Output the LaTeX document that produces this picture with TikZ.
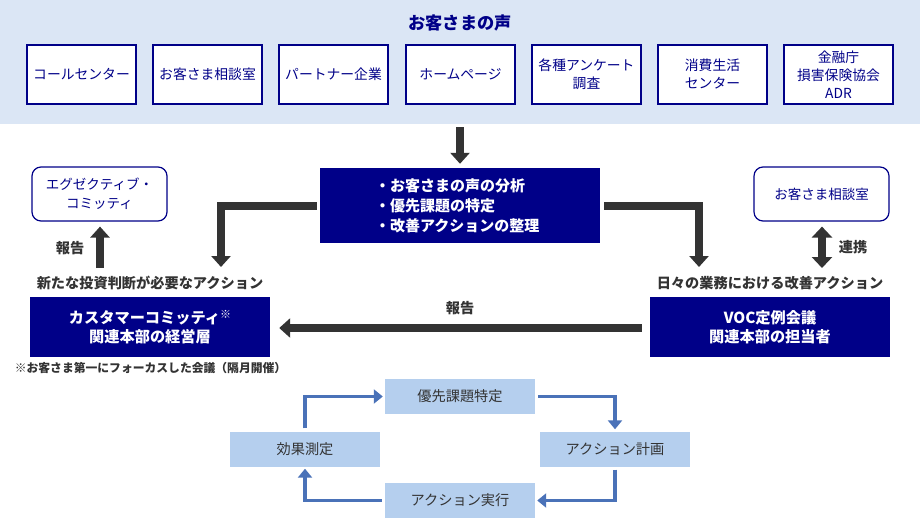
\documentclass[tikz,border=0pt]{standalone}
\usepackage{fontspec}
\setmainfont{Noto Sans CJK JP}
\usetikzlibrary{arrows.meta}
\definecolor{navy}{HTML}{000088}
\definecolor{band}{HTML}{DBE6F5}
\definecolor{cycbox}{HTML}{B5CFEE}
\definecolor{cycarrow}{HTML}{4A72B8}
\definecolor{dgray}{HTML}{333333}
\tikzset{
  srcbox/.style={draw=navy, line width=1.2pt, fill=white, text=navy, minimum width=109pt, minimum height=59pt, align=center, inner sep=1pt, font=\fontsize{13.8}{18}\selectfont},
  roundbox/.style={draw=navy, line width=1.2pt, fill=white, text=navy, rounded corners=9pt, minimum width=135pt, minimum height=54pt, align=center, font=\fontsize{13.5}{19}\selectfont},
  navybox/.style={fill=navy, text=white, minimum width=240pt, minimum height=60pt, align=center, font=\fontsize{15.2}{19.5}\selectfont\bfseries},
  cyclebox/.style={fill=cycbox, text=dgray, minimum width=150pt, minimum height=35pt, font=\fontsize{14.2}{16}\selectfont},
  lbl/.style={text=dgray, font=\fontsize{14.2}{16}\selectfont\bfseries},
  bigarrow/.style={draw=dgray, line width=8pt, -{Triangle[width=19pt,length=11pt]}},
  dblarrow/.style={draw=dgray, line width=8pt, {Triangle[width=20pt,length=11pt]}-{Triangle[width=20pt,length=11pt]}},
  cycarr/.style={draw=cycarrow, line width=3.5pt, -{Triangle[width=14pt,length=9pt]}},
}
\begin{document}
\begin{tikzpicture}[x=1pt,y=-1pt]
\useasboundingbox (0,0) rectangle (920,532);
\fill[band] (0,0) rectangle (920,124);
\node[text=navy, font=\fontsize{17.2}{20}\selectfont\bfseries] (title) at (460,23) {お客さまの声};
\node[srcbox] (s1) at (81.5,74.5) {コールセンター};
\node[srcbox] (s2) at (207.5,74.5) {お客さま相談室};
\node[srcbox] (s3) at (333.5,74.5) {パートナー企業};
\node[srcbox] (s4) at (460.5,74.5) {ホームページ};
\node[srcbox] (s5) at (586.5,74.5) {各種アンケート\\調査};
\node[srcbox] (s6) at (712.5,74.5) {消費生活\\センター};
\node[srcbox] (s7) at (838.5,74.5) {金融庁\\損害保険協会\\ADR};

\node[fill=navy, text=white, text width=170pt, inner xsep=55pt, minimum height=75pt, align=left, font=\fontsize{15}{20}\selectfont\bfseries] (ana) at (460,205.5) {・お客さまの声の分析\\・優先課題の特定\\・改善アクションの整理};
\coordinate (topstart) at (460,127);
\draw[bigarrow] (topstart) -- ([yshift=4pt]ana.north);

\node[roundbox] (exec) at (99.5,194) {エグゼクティブ・\\コミッティ};
\node[roundbox] (cons) at (821.5,194) {お客さま相談室};

\node[lbl] (newl) at (150,283) {新たな投資判断が必要なアクション};
\node[lbl] (dayl) at (770,283) {日々の業務における改善アクション};

\node[navybox] (cc) at (150,327) {カスタマーコミッティ{\fontsize{11}{11}\selectfont\raisebox{5pt}{※}}\\関連本部の経営層};
\node[navybox] (voc) at (770,327) {VOC定例会議\\関連本部の担当者};
\node[text=dgray, font=\fontsize{11.8}{14}\selectfont\bfseries] (note) at (150.5,368) {※お客さま第一にフォーカスした会議（隔月開催）};

\coordinate (lcorner) at (221,206);
\coordinate (lend) at (221,267);
\coordinate (rcorner) at (699,206);
\coordinate (rend) at (699,267);
\draw[bigarrow] ([xshift=-3pt]ana.west |- lcorner) -- (lcorner) -- (lend);
\draw[bigarrow] ([xshift=4pt]ana.east |- rcorner) -- (rcorner) -- (rend);

\coordinate (upstart) at (100,268);
\draw[bigarrow] (upstart) -- ([yshift=-5pt]exec.south -| upstart);
\node[lbl] (rep1) at (70,248) {報告};

\coordinate (dblend) at (822,268);
\draw[dblarrow] (dblend) -- ([yshift=-5pt]cons.south -| dblend);
\node[lbl] (link) at (853,247) {連携};

\draw[bigarrow] ([xshift=-8pt]voc.west |- 0,328) -- ([xshift=9pt]cc.east |- 0,328);
\node[lbl] (rep2) at (460,308) {報告};

\node[cyclebox] (p1) at (460,396.5) {優先課題特定};
\node[cyclebox] (p2) at (615,449) {アクション計画};
\node[cyclebox] (p3) at (460,500.5) {アクション実行};
\node[cyclebox] (p4) at (305,449) {効果測定};
\draw[cycarr] ([yshift=3pt]p4.north) |- ([xshift=-2pt]p1.west);
\draw[cycarr] ([xshift=3pt]p1.east) -| ([yshift=2pt]p2.north);
\draw[cycarr] ([yshift=-3pt]p2.south) |- ([xshift=2pt]p3.east);
\draw[cycarr] ([xshift=-3pt]p3.west) -| ([yshift=-2pt]p4.south);
\end{tikzpicture}
\end{document}
